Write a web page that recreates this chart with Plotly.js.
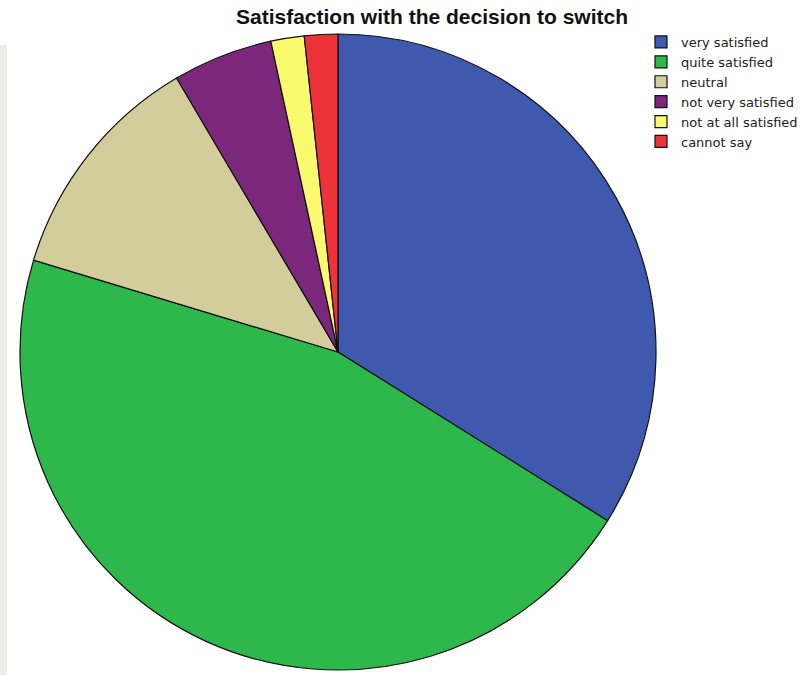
<!DOCTYPE html>
<html>
<head>
<meta charset="utf-8">
<script src="https://cdn.plot.ly/plotly-3.0.1.min.js"></script>
<style>html,body{margin:0;padding:0;background:#fff;}</style>
</head>
<body>
<div id="chart" style="width:811px;height:675px;"></div>
<script>
var categories = ["very satisfied", "quite satisfied", "neutral", "not very satisfied", "not at all satisfied", "cannot say"];
var counts = [20, 27, 7, 3, 1, 1];
var colors = ["#3e59ae", "#2eb84b", "#d3cc9b", "#7a277c", "#fafa6e", "#ee3338"];

var trace = {
  type: "pie",
  labels: categories,
  values: counts,
  sort: false,
  direction: "clockwise",
  rotation: 0,
  textinfo: "none",
  marker: {colors: colors, line: {color: "#111", width: 1.2}},
  domain: {x: [19/811, 657/811], y: [5/675, 641/675]}
};

var layout = {
  width: 811, height: 675,
  margin: {l: 0, r: 0, t: 0, b: 0},
  paper_bgcolor: "#fff",
  title: {text: "<b>Satisfaction with the decision to switch</b>", x: 432/811, xanchor: "center", y: 1 - 17/675, yanchor: "middle",
          font: {family: "Liberation Sans, Arial, sans-serif", size: 21, color: "#111"}},
  showlegend: true,
  legend: {x: 641/811, xanchor: "left", y: 1 - 27/675, yanchor: "top",
           font: {family: "DejaVu Sans, sans-serif", size: 13, color: "#222"},
           tracegroupgap: 0, itemwidth: 30, bgcolor: "rgba(0,0,0,0)"},
  shapes: [{type: "rect", xref: "paper", yref: "paper", x0: 0, x1: 7/811, y0: 0, y1: 1 - 45/675,
            fillcolor: "#eeeceb", line: {width: 0}, layer: "below"}]
};

Plotly.newPlot("chart", [trace], layout, {displayModeBar: false, staticPlot: true});
</script>
</body>
</html>
